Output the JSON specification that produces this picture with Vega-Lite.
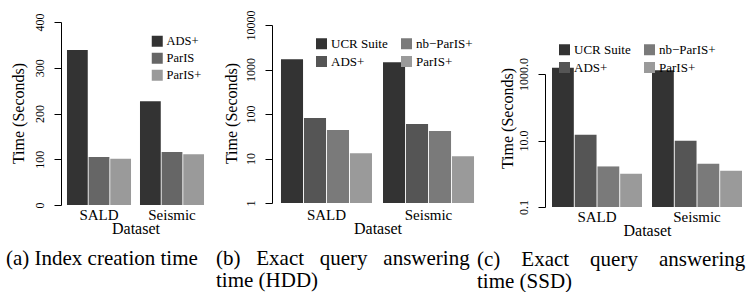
{
  "$schema": "https://vega.github.io/schema/vega-lite/v6.json",
  "background": "white",
  "padding": {"left": 6, "top": 9, "right": 0, "bottom": 0},
  "bounds": "flush",
  "spacing": 62,
  "resolve": {"scale": {"x": "independent", "xOffset": "independent", "y": "independent", "color": "independent"}, "legend": {"color": "independent"}, "axis": {"x": "independent", "y": "independent"}},
  "config": {
    "view": {"stroke": null},
    "font": "Liberation Serif",
    "axis": {"grid": false, "labelFont": "Liberation Serif", "titleFont": "Liberation Serif", "labelColor": "black", "titleColor": "black", "domainColor": "black", "tickColor": "black", "titleFontWeight": "normal"},
    "axisY": {"tickSize": 7, "labelAngle": 270, "labelAlign": "center", "labelBaseline": "middle", "labelPadding": 15, "labelFontSize": 12, "titleFontSize": 16, "titleAngle": 270, "titleAlign": "center", "titleBaseline": "middle"},
    "axisX": {"domain": false, "ticks": false, "labelAngle": 0, "labelFontSize": 15, "labelPadding": 0, "titleFontSize": 16, "titlePadding": -2},
    "legend": {"orient": "none", "title": null, "symbolType": "square", "symbolSize": 121, "symbolStrokeWidth": 0, "labelFont": "Liberation Serif", "labelFontSize": 13, "labelColor": "black", "labelOffset": 3, "rowPadding": 4, "padding": 0, "columnPadding": 12},
    "title": {"font": "Liberation Serif", "fontSize": 21, "fontWeight": "normal", "color": "black", "orient": "bottom", "anchor": "start", "frame": "group", "baseline": "top", "lineHeight": 22, "offset": 12}
  },
  "datasets": {
    "a": [
      {"dataset": "SALD", "method": "ADS+", "value": 339},
      {"dataset": "SALD", "method": "ParIS", "value": 105},
      {"dataset": "SALD", "method": "ParIS+", "value": 101},
      {"dataset": "Seismic", "method": "ADS+", "value": 227},
      {"dataset": "Seismic", "method": "ParIS", "value": 116},
      {"dataset": "Seismic", "method": "ParIS+", "value": 111}
    ],
    "b": [
      {"dataset": "SALD", "method": "UCR Suite", "value": 1706},
      {"dataset": "SALD", "method": "ADS+", "value": 81.4},
      {"dataset": "SALD", "method": "nb−ParIS+", "value": 43.7},
      {"dataset": "SALD", "method": "ParIS+", "value": 13.2},
      {"dataset": "Seismic", "method": "UCR Suite", "value": 1462},
      {"dataset": "Seismic", "method": "ADS+", "value": 59.6},
      {"dataset": "Seismic", "method": "nb−ParIS+", "value": 41.5},
      {"dataset": "Seismic", "method": "ParIS+", "value": 11.3}
    ],
    "c": [
      {"dataset": "SALD", "method": "UCR Suite", "value": 1550},
      {"dataset": "SALD", "method": "ADS+", "value": 14.8},
      {"dataset": "SALD", "method": "nb−ParIS+", "value": 1.66},
      {"dataset": "SALD", "method": "ParIS+", "value": 1.0},
      {"dataset": "Seismic", "method": "UCR Suite", "value": 1290},
      {"dataset": "Seismic", "method": "ADS+", "value": 9.8},
      {"dataset": "Seismic", "method": "nb−ParIS+", "value": 2.0},
      {"dataset": "Seismic", "method": "ParIS+", "value": 1.23}
    ]
  },
  "hconcat": [
    {
      "width": 149,
      "height": 185,
      "data": {"name": "a"},
      "title": {"text": "(a) Index creation time", "dx": -55},
      "mark": {"type": "bar"},
      "encoding": {
        "x": {"field": "dataset", "type": "nominal", "title": "Dataset", "scale": {"paddingInner": 0.123, "paddingOuter": 0.082}},
        "xOffset": {"field": "method", "type": "nominal", "sort": ["ADS+", "ParIS", "ParIS+"], "scale": {"paddingInner": 0.04}},
        "y": {"field": "value", "type": "quantitative", "title": "Time (Seconds)", "scale": {"domain": [0, 400], "range": [183, 0], "nice": false}, "axis": {"values": [0, 100, 200, 300, 400], "titleX": -43, "titleY": 91}},
        "color": {"field": "method", "type": "nominal", "scale": {"domain": ["ADS+", "ParIS", "ParIS+"], "range": ["#333333", "#666666", "#9a9a9a"]}, "legend": {"legendX": 90, "legendY": 13, "labelFontSize": 12.5}}
      }
    },
    {
      "width": 211,
      "height": 185,
      "data": {"name": "b"},
      "title": {"text": ["(b)\u00a0\u00a0\u00a0Exact\u00a0\u00a0\u00a0query\u00a0\u00a0\u00a0answering", "time (HDD)"], "dx": -56},
      "mark": {"type": "bar"},
      "encoding": {
        "x": {"field": "dataset", "type": "nominal", "title": "Dataset", "scale": {"paddingInner": 0.108, "paddingOuter": 0.088}},
        "xOffset": {"field": "method", "type": "nominal", "sort": ["UCR Suite", "ADS+", "nb−ParIS+", "ParIS+"], "scale": {"paddingInner": 0.04}},
        "y": {"field": "value", "type": "quantitative", "title": "Time (Seconds)", "scale": {"type": "log", "domain": [1, 10000], "range": [181, 3], "nice": false}, "axis": {"values": [1, 10, 100, 1000, 10000], "format": "d", "titleX": -41, "titleY": 91}},
        "y2": {"datum": 1},
        "color": {"field": "method", "type": "nominal", "scale": {"domain": ["UCR Suite", "ADS+", "nb−ParIS+", "ParIS+"], "range": ["#333333", "#555555", "#7a7a7a", "#9a9a9a"]}, "legend": {"legendX": 43, "legendY": 15, "columns": 2, "values": ["UCR Suite", "ADS+", "nb−ParIS+", "ParIS+"]}}
      }
    },
    {
      "width": 204,
      "height": 185,
      "data": {"name": "c"},
      "title": {"text": ["(c)\u00a0\u00a0\u00a0\u00a0Exact\u00a0\u00a0\u00a0\u00a0query\u00a0\u00a0\u00a0\u00a0answering", "time (SSD)"], "dx": -68, "offset": 11},
      "mark": {"type": "bar"},
      "encoding": {
        "x": {"field": "dataset", "type": "nominal", "title": "Dataset", "scale": {"paddingInner": 0.1, "paddingOuter": 0.07}, "axis": {"labelPadding": 2}},
        "xOffset": {"field": "method", "type": "nominal", "sort": ["UCR Suite", "ADS+", "nb−ParIS+", "ParIS+"], "scale": {"paddingInner": 0.04}},
        "y": {"field": "value", "type": "quantitative", "title": "Time (Seconds)", "scale": {"type": "log", "domain": [0.1, 1000], "range": [185, 52], "nice": false}, "axis": {"values": [0.1, 10, 1000], "format": ".1f", "titleX": -38, "titleY": 96}},
        "y2": {"datum": 0.1},
        "color": {"field": "method", "type": "nominal", "scale": {"domain": ["UCR Suite", "ADS+", "nb−ParIS+", "ParIS+"], "range": ["#333333", "#555555", "#7a7a7a", "#9a9a9a"]}, "legend": {"legendX": 13, "legendY": 21, "columns": 2, "values": ["UCR Suite", "ADS+", "nb−ParIS+", "ParIS+"]}}
      }
    }
  ]
}
